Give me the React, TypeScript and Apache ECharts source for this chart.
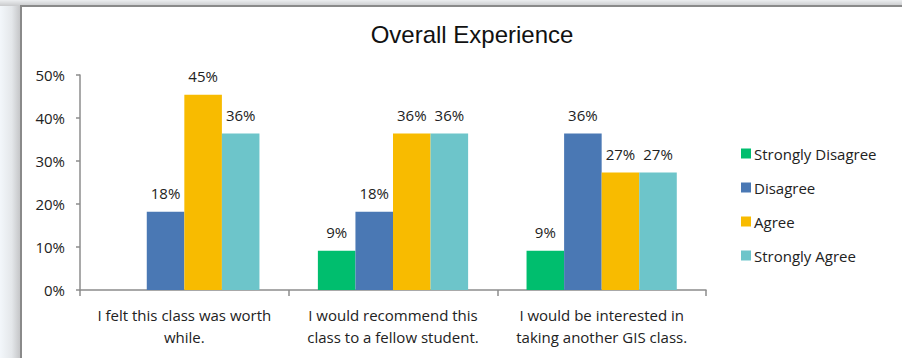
import React, { useEffect, useRef } from "react";
import * as echarts from "echarts";

const categories = [
  "I felt this class was worth\nwhile.",
  "I would recommend this\nclass to a fellow student.",
  "I would be interested in\ntaking another GIS class.",
];
const seriesNames = ["Strongly Disagree", "Disagree", "Agree", "Strongly Agree"];
const stronglyDisagree = [0, 9.1, 9.1];
const disagree = [18.2, 18.2, 36.4];
const agree = [45.4, 36.4, 27.3];
const stronglyAgree = [36.4, 36.4, 27.3];
const colors = ["#00be6e", "#4a78b4", "#f8bb00", "#6dc5ca"];
const yTicks = [0, 10, 20, 30, 40, 50];

const FONT = "Open Sans";

export default function App() {
  const ref = useRef<HTMLDivElement>(null);
  useEffect(() => {
    document.body.style.margin = "0";
    const chart = echarts.init(ref.current!, null, { renderer: "svg" });
    const data = [stronglyDisagree, disagree, agree, stronglyAgree];
    chart.setOption({
      animation: false,
      backgroundColor: "#ffffff",
      textStyle: { fontFamily: FONT },
      title: {
        text: "Overall Experience",
        left: 467,
        top: 17,
        textAlign: "center",
        textStyle: { fontFamily: "Liberation Sans", fontSize: 24, fontWeight: "normal", color: "#111" },
      },
      graphic: [
        {
          type: "rect",
          z: -10,
          silent: true,
          shape: { x: 0, y: 0, width: 902, height: 358 },
          style: {
            fill: new echarts.graphic.LinearGradient(0, 0, 1, 0, [
              { offset: 0, color: "#f3f7fb" },
              { offset: 0.013, color: "#e4e7ea" },
              { offset: 0.022, color: "#c6c7c9" },
              { offset: 1, color: "#c6c7c9" },
            ]),
          },
        },
        {
          type: "rect",
          z: -9,
          silent: true,
          shape: { x: 0, y: 0, width: 902, height: 6 },
          style: {
            fill: new echarts.graphic.LinearGradient(0, 0, 0, 1, [
              { offset: 0, color: "#eceef0" },
              { offset: 1, color: "#c9cacc" },
            ]),
          },
        },
        {
          type: "rect",
          z: -8,
          silent: true,
          shape: { x: 21, y: 6, width: 900, height: 370 },
          style: { fill: "#ffffff", stroke: "#8a8a8a", lineWidth: 2 },
        },
      ],
      legend: {
        orient: "vertical",
        left: 736,
        top: 141,
        itemWidth: 10,
        itemHeight: 10,
        itemGap: 19,
        icon: "rect",
        data: seriesNames,
        textStyle: { fontFamily: FONT, fontSize: 15, color: "#222", padding: [0, 0, 0, -2] },
      },
      grid: { left: 80, right: 196, top: 75, bottom: 68 },
      xAxis: {
        type: "category",
        data: categories,
        axisLine: { lineStyle: { color: "#8c8c8c", width: 1.5 } },
        axisTick: { show: true, length: 6, lineStyle: { color: "#8c8c8c", width: 1.5 } },
        axisLabel: {
          fontFamily: FONT,
          fontSize: 15,
          color: "#222",
          lineHeight: 22,
          margin: 14,
          interval: 0,
        },
      },
      yAxis: {
        type: "value",
        min: yTicks[0],
        max: yTicks[yTicks.length - 1],
        interval: 10,
        splitLine: { show: false },
        axisLine: { show: true, lineStyle: { color: "#8c8c8c", width: 1.5 } },
        axisTick: { show: true, length: 4, lineStyle: { color: "#8c8c8c", width: 1.5 } },
        axisLabel: {
          formatter: "{value}%",
          fontFamily: FONT,
          fontSize: 15,
          color: "#222",
          margin: 15,
        },
      },
      series: seriesNames.map((name, i) => ({
        name,
        type: "bar",
        data: data[i],
        itemStyle: { color: colors[i] },
        barGap: "0%",
        barCategoryGap: "28%",
        label: {
          show: true,
          position: "top",
          distance: 11,
          fontFamily: FONT,
          fontSize: 15,
          color: "#222",
          formatter: (p: any) => (p.value ? Math.round(p.value) + "%" : ""),
        },
      })),
    });
    return () => chart.dispose();
  }, []);
  return <div ref={ref} style={{ width: 902, height: 358 }} />;
}
